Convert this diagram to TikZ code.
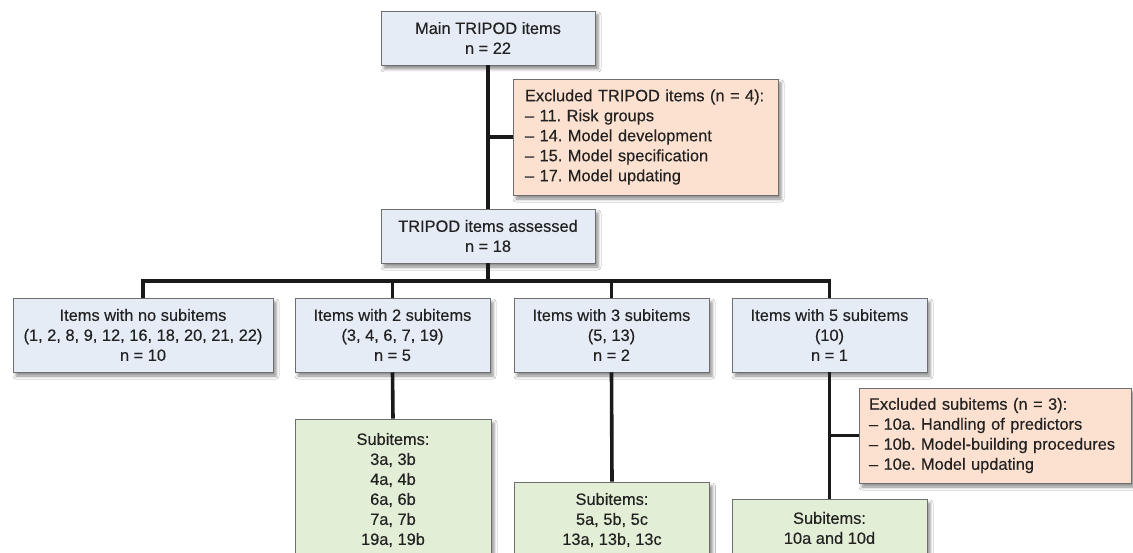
\documentclass[tikz,border=0pt]{standalone}
\usepackage{fontspec}
\setmainfont{Liberation Sans}
\newfontfamily\medfont[FakeBold=0.35]{Liberation Sans}
\newcommand\myboxfont{\medfont\fontsize{16.4}{20}\selectfont\frenchspacing\hyphenpenalty=10000\relax}
\usetikzlibrary{shadows.blur}
\definecolor{boxblue}{HTML}{E5ECF6}
\definecolor{boxpeach}{HTML}{FDE1D0}
\definecolor{boxgreen}{HTML}{E2EED5}
\definecolor{edgegray}{HTML}{6E6E6E}
\definecolor{linkblack}{HTML}{1A1A1A}
\definecolor{textdark}{HTML}{222222}
\begin{document}
\begin{tikzpicture}[x=1pt,y=-1pt,
  base/.style={draw=edgegray, line width=0.8pt,
    font=\myboxfont, text=textdark,
    blur shadow={shadow xshift=3pt, shadow yshift=-4pt, shadow blur radius=3pt, shadow opacity=45},
    inner sep=0pt},
  bluebox/.style={base, fill=boxblue, align=center},
  greenbox/.style={base, fill=boxgreen, align=center},
  peachbox/.style={base, fill=boxpeach, align=left, inner xsep=12pt},
  conn/.style={draw=linkblack, line width=3.6pt, line join=miter}]
\useasboundingbox (0,0) rectangle (1133,553);
\clip (0,0) rectangle (1133,553);
\fill[white] (0,0) rectangle (1133,553);

\node[bluebox, minimum width=214pt, minimum height=54pt] (main) at (488,38)
  {Main TRIPOD items\\n = 22};
\node[peachbox, text width=241pt, minimum height=116pt] (excl) at (645.5,137)
  {Excluded TRIPOD items (n = 4):\\– 11. Risk groups\\– 14. Model development\\– 15. Model specification\\– 17. Model updating};
\node[bluebox, minimum width=214pt, minimum height=54pt] (assess) at (488,236)
  {TRIPOD items assessed\\n = 18};

\node[bluebox, minimum width=260pt, minimum height=74pt] (b1) at (143,335)
  {Items with no subitems\\(1, 2, 8, 9, 12, 16, 18, 20, 21, 22)\\n = 10};
\node[bluebox, minimum width=195pt, minimum height=74pt] (b2) at (392.5,335)
  {Items with 2 subitems\\(3, 4, 6, 7, 19)\\n = 5};
\node[bluebox, minimum width=195pt, minimum height=74pt] (b3) at (611.5,335)
  {Items with 3 subitems\\(5, 13)\\n = 2};
\node[bluebox, minimum width=195pt, minimum height=74pt] (b4) at (829.5,335)
  {Items with 5 subitems\\(10)\\n = 1};

\node[greenbox, minimum width=196pt, minimum height=142pt] (g2) at (393,490)
  {Subitems:\\3a, 3b\\4a, 4b\\6a, 6b\\7a, 7b\\19a, 19b};
\node[greenbox, minimum width=195pt, minimum height=76pt] (g3) at (612,520)
  {Subitems:\\5a, 5b, 5c\\13a, 13b, 13c};
\node[greenbox, minimum width=195pt, minimum height=58pt] (g4) at (829.5,528)
  {Subitems:\\10a and 10d};

\node[peachbox, inner xsep=10pt, text width=252pt, minimum height=95pt] (excl2) at (995,435.5)
  {Excluded subitems (n = 3):\\– 10a. Handling of predictors\\– 10b. Model-building procedures\\– 10e. Model updating};

\coordinate (bar) at (0,281);
\draw[conn] (main.south) -- (assess.north);
\draw[conn] (main.south |- excl.west) -- (excl.west);
\draw[conn] (assess.south) -- (assess.south |- bar);
\draw[conn] (b1.north) -- (b1.north |- bar) -- (b4.north |- bar) -- (b4.north);
\draw[conn] (b2.north) -- (b2.north |- bar);
\draw[conn] (b3.north) -- (b3.north |- bar);
\draw[conn] (b2.south) -- (g2.north);
\draw[conn] (b3.south) -- (g3.north);
\draw[conn] (b4.south) -- (g4.north);
\draw[conn] (b4.south |- excl2.west) -- (excl2.west);
\end{tikzpicture}
\end{document}
